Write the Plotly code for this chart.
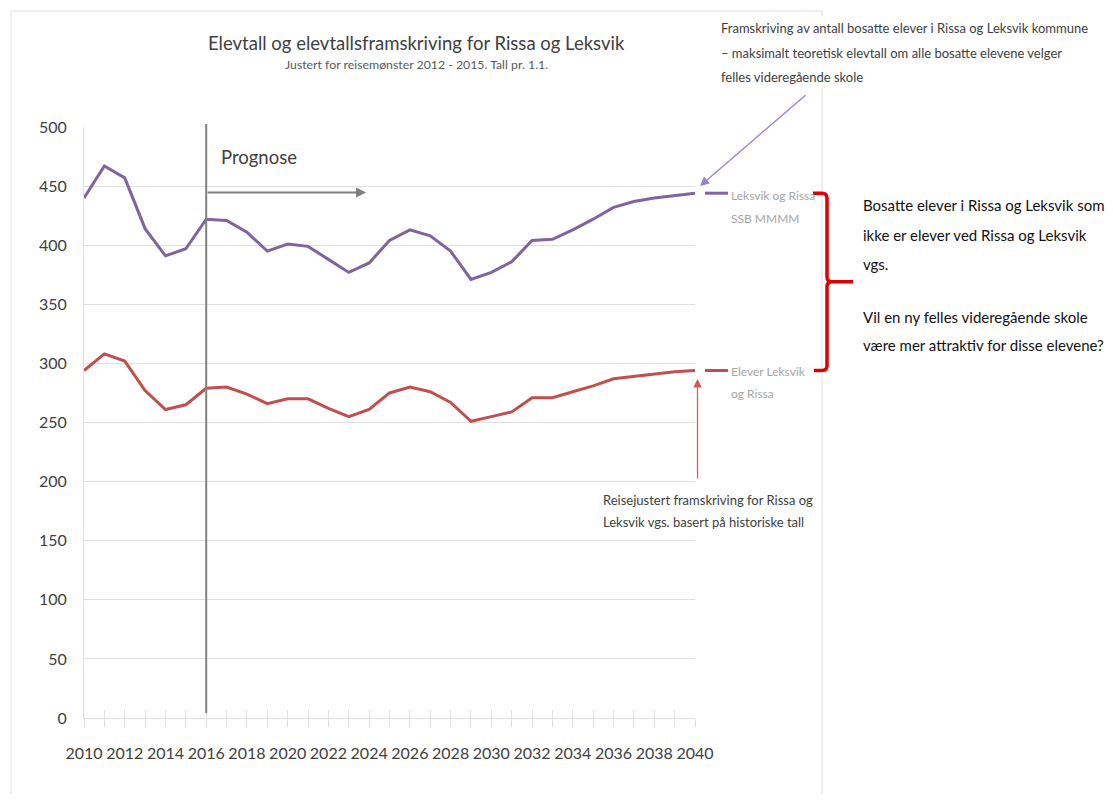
import plotly.graph_objects as go

years = list(range(2010, 2041))
ssb_total = [440, 467, 457, 414, 391, 397, 422, 421, 411, 395, 401, 399, 388, 377, 385, 404,
             413, 408, 395, 371, 377, 386, 404, 405, 413, 422, 432, 437, 440, 442, 444]
elever_vgs = [294, 308, 302, 277, 261, 265, 279, 280, 274, 266, 270, 270, 262, 255, 261, 275,
              280, 276, 267, 251, 255, 259, 271, 271, 276, 281, 287, 289, 291, 293, 294]
x_ticks = list(range(2010, 2041, 2))
y_ticks = list(range(0, 501, 50))
prognose_start = 2016
prognose_arrow_end = 2023.85

title = "Elevtall og elevtallsframskriving for Rissa og Leksvik"
subtitle = "Justert for reisemønster 2012 - 2015. Tall pr. 1.1."
label_purple = ["Leksvik og Rissa", "SSB MMMM"]
label_red = ["Elever Leksvik", "og Rissa"]
note_purple = ["Framskriving av antall bosatte elever i Rissa og Leksvik kommune",
               "– maksimalt teoretisk elevtall om alle bosatte elevene velger",
               "felles videregående skole"]
note_red = ["Reisejustert framskriving for Rissa og",
            "Leksvik vgs. basert på historiske tall"]
note_right = ["Bosatte elever i Rissa og Leksvik som", "ikke er elever ved Rissa og Leksvik",
              "vgs.", "Vil en ny felles videregående skole", "være mer attraktiv for disse elevene?"]

PURPLE = "#8064A2"
RED = "#C0504D"
FONT = "Lato, DejaVu Sans Condensed, sans-serif"

OFF = 8  # page body margin: figure origin sits at screen (8, 8)
W, H = 1113 - 2 * OFF, 802 - 2 * OFF
L, R, T, B = 84, 695, 127, 718  # plot area in screen pixels


def px(x):
    return (x - L) / (R - L)


def py(y):
    return (B - y) / (B - T)


def vy(v):  # data value -> screen pixel y
    return B - v / 500 * (B - T)


fig = go.Figure()
fig.add_trace(go.Scatter(x=years, y=ssb_total, mode="lines", line=dict(color=PURPLE, width=3),
                         name="Leksvik og Rissa SSB MMMM", hoverinfo="x+y"))
fig.add_trace(go.Scatter(x=years, y=elever_vgs, mode="lines", line=dict(color=RED, width=3),
                         name="Elever Leksvik og Rissa", hoverinfo="x+y"))
# trace holding the overlay axis that draws the inner half of the tick marks
fig.add_trace(go.Scatter(x=years, y=elever_vgs, mode="lines", line=dict(width=0), xaxis="x2",
                         hoverinfo="skip", showlegend=False, opacity=0))

grid = "#e0e0e0"
fig.update_layout(
    width=W, height=H,
    margin=dict(l=L - OFF, r=W - (R - OFF), t=T - OFF, b=H - (B - OFF), autoexpand=False),
    paper_bgcolor="white", plot_bgcolor="white", showlegend=False,
    font=dict(family=FONT, color="#404040"),
    xaxis=dict(range=[2010, 2040], tickvals=x_ticks, ticks="outside", ticklen=8, tickcolor=grid,
               minor=dict(dtick=1, ticks="outside", ticklen=8, tickcolor=grid, showgrid=False),
               showgrid=False, showline=True, linecolor=grid, linewidth=1, zeroline=False,
               tickangle=0, tickfont=dict(size=16, color="#404040"), ticklabelstandoff=13),
    xaxis2=dict(range=[2010, 2040], overlaying="x", anchor="y", side="bottom", dtick=1, tick0=2010,
                tickmode="linear", ticks="inside", ticklen=8, tickcolor=grid, showticklabels=False,
                showgrid=False, showline=False, zeroline=False),
    yaxis=dict(range=[0, 500], tickvals=y_ticks, showgrid=True, gridcolor=grid, gridwidth=1,
               showline=True, linecolor=grid, zeroline=False, ticks="",
               tickfont=dict(size=16, color="#404040"), ticklabelstandoff=13),
)

shapes = []
# outer chart frame
shapes.append(dict(type="rect", xref="paper", yref="paper", x0=px(11), x1=px(822), y0=py(11), y1=py(806),
                   line=dict(color="#e0e0e0", width=1), layer="below"))
# white box behind the top-right note
shapes.append(dict(type="rect", xref="paper", yref="paper", x0=px(712), x1=px(1100), y0=py(16), y1=py(88),
                   line=dict(width=0), fillcolor="white", layer="above"))
# prognosis vertical line
shapes.append(dict(type="line", xref="x", yref="paper", x0=prognose_start, x1=prognose_start,
                   y0=py(713), y1=py(124), line=dict(color="#808080", width=2)))
# legend keys next to the line ends
for vals, col in ((ssb_total, PURPLE), (elever_vgs, RED)):
    shapes.append(dict(type="line", xref="paper", yref="paper", x0=px(705), x1=px(728),
                       y0=vals[-1] / 500, y1=vals[-1] / 500, line=dict(color=col, width=3)))

# curly bracket between the two series
yt, yb = vy(ssb_total[-1]), vy(elever_vgs[-1])
ym = (yt + yb) / 2
xb = 827


def P(x, y):
    return f"{px(x):.5f},{py(y):.5f}"


path = (f"M {P(813, yt)} L {P(xb - 5, yt)} Q {P(xb, yt)} {P(xb, yt + 5)} L {P(xb, ym - 5)} "
        f"Q {P(xb, ym)} {P(xb + 5, ym)} L {P(853, ym)} M {P(xb + 5, ym)} Q {P(xb, ym)} {P(xb, ym + 5)} "
        f"L {P(xb, yb - 5)} Q {P(xb, yb)} {P(xb - 5, yb)} L {P(814, yb)}")
shapes.append(dict(type="path", xref="paper", yref="paper", path=path,
                   line=dict(color="#dd0000", width=3.5)))
fig.update_layout(shapes=shapes)

ann = []


def text(x, y, s, size, color="#404040", anchor="left"):
    ann.append(dict(xref="paper", yref="paper", x=px(x), y=py(y), text=s, showarrow=False,
                    xanchor=anchor, yanchor="middle", font=dict(size=size, color=color, family=FONT)))


text(416.7, 43.5, title, 18.5, "#404040", "center")
text(416.5, 64, subtitle, 12.3, "#595959", "center")
text(219, 157, "Prognose", 18.5, "#404040")
for i, s in enumerate(note_purple):
    text(719, 28 + i * 24.5, s, 13)
for i, s in enumerate(label_purple):
    text(729, vy(ssb_total[-1]) + 2 + i * 23, s, 12, "#a6a6a6")
for i, s in enumerate(label_red):
    text(729, vy(elever_vgs[-1]) + 1 + i * 22, s, 12, "#a6a6a6")
for i, s in enumerate(note_red):
    text(601, 500 + i * 22, s, 13)
for s, y in zip(note_right, [205, 235, 264, 317, 345]):
    text(861, y, s, 15, "#111111")

# arrows
ann.append(dict(xref="paper", yref="paper", x=px(700), y=py(186), ax=107, ay=-92, text="",
                showarrow=True, arrowhead=2, arrowsize=1.4, arrowwidth=1.3, arrowcolor="#9b80cf"))
ann.append(dict(xref="paper", yref="paper", x=px(697.5), y=py(379), ax=0, ay=101, text="",
                showarrow=True, arrowhead=2, arrowsize=1.4, arrowwidth=1.2, arrowcolor="#d9534f"))
ann.append(dict(xref="x", yref="y", x=prognose_arrow_end, y=444.5, axref="x", ayref="y",
                ax=prognose_start, ay=444.5, text="", showarrow=True, arrowhead=2, arrowsize=1,
                arrowwidth=2, arrowcolor="#7f7f7f"))
fig.update_layout(annotations=ann)

fig.write_html("out.html")
